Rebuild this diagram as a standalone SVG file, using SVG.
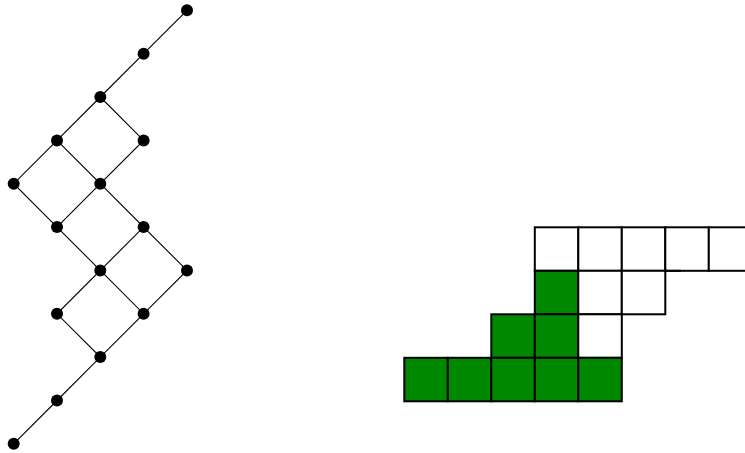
<svg xmlns="http://www.w3.org/2000/svg" width="745" height="453" viewBox="0 0 745 453">
<style>
.e{stroke:#000;stroke-width:1.1;fill:none}
.d{fill:#000}
.c{stroke:#000;stroke-width:2;fill:#fff}
.g{fill:#008800}
</style>
<rect width="745" height="453" fill="#fff"/>
<g id="connectors">
<path class="e" d="M187,10.3L143.6,53.7L100.3,97L57,140.4L13.7,183.7L57,227.1L100.3,270.4L57,313.8L100.3,357.1L57,400.5L13.7,443.8"/>
<path class="e" d="M100.3,97L143.6,140.4L100.3,183.7L57,140.4"/>
<path class="e" d="M100.3,183.7L57,227.1"/>
<path class="e" d="M100.3,183.7L143.6,227.1L100.3,270.4"/>
<path class="e" d="M143.6,227.1L187,270.4L143.6,313.8L100.3,270.4"/>
<path class="e" d="M143.6,313.8L100.3,357.1"/>
</g>
<g id="n1"><circle class="d" cx="187" cy="10.3" r="6"/></g>
<g id="n2"><circle class="d" cx="143.6" cy="53.7" r="6"/></g>
<g id="n3"><circle class="d" cx="100.3" cy="97" r="6"/></g>
<g id="n4"><circle class="d" cx="57" cy="140.4" r="6"/></g>
<g id="n5"><circle class="d" cx="143.6" cy="140.4" r="6"/></g>
<g id="n6"><circle class="d" cx="13.7" cy="183.7" r="6"/></g>
<g id="n7"><circle class="d" cx="100.3" cy="183.7" r="6"/></g>
<g id="n8"><circle class="d" cx="57" cy="227.1" r="6"/></g>
<g id="n9"><circle class="d" cx="143.6" cy="227.1" r="6"/></g>
<g id="n10"><circle class="d" cx="100.3" cy="270.4" r="6"/></g>
<g id="n11"><circle class="d" cx="187" cy="270.4" r="6"/></g>
<g id="n12"><circle class="d" cx="57" cy="313.8" r="6"/></g>
<g id="n13"><circle class="d" cx="143.6" cy="313.8" r="6"/></g>
<g id="n14"><circle class="d" cx="100.3" cy="357.1" r="6"/></g>
<g id="n15"><circle class="d" cx="57" cy="400.5" r="6"/></g>
<g id="n16"><circle class="d" cx="13.7" cy="443.8" r="6"/></g>
<g id="grid">
<rect class="c" x="534.8" y="227.3" width="43.5" height="43.5"/>
<rect class="c" x="578.3" y="227.3" width="43.5" height="43.5"/>
<rect class="c" x="621.8" y="227.3" width="43.5" height="43.5"/>
<rect class="c" x="665.3" y="227.3" width="43.5" height="43.5"/>
<rect class="c" x="708.8" y="227.3" width="43.5" height="43.5"/>
<line x1="665.3" y1="270.8" x2="681" y2="270.8" stroke="#000" stroke-width="2"/>
<rect class="c g" x="534.8" y="270.8" width="43.5" height="43.5"/>
<rect class="c" x="578.3" y="270.8" width="43.5" height="43.5"/>
<rect class="c" x="621.8" y="270.8" width="43.5" height="43.5"/>
<rect class="c g" x="491.3" y="314.3" width="43.5" height="43.5"/>
<rect class="c g" x="534.8" y="314.3" width="43.5" height="43.5"/>
<rect class="c" x="578.3" y="314.3" width="43.5" height="43.5"/>
<rect class="c g" x="404.3" y="357.8" width="43.5" height="43.5"/>
<rect class="c g" x="447.8" y="357.8" width="43.5" height="43.5"/>
<rect class="c g" x="491.3" y="357.8" width="43.5" height="43.5"/>
<rect class="c g" x="534.8" y="357.8" width="43.5" height="43.5"/>
<rect class="c g" x="578.3" y="357.8" width="43.5" height="43.5"/>
</g>
</svg>
